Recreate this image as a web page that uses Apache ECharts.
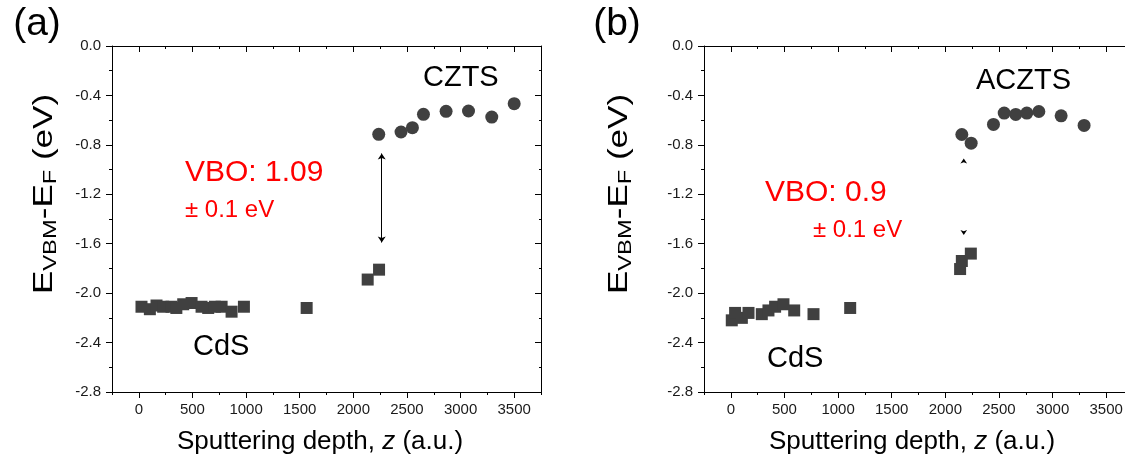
<!DOCTYPE html>
<html>
<head>
<meta charset="utf-8">
<script src="https://cdn.jsdelivr.net/npm/echarts@6/dist/echarts.min.js"></script>
<style>html,body{margin:0;padding:0;background:#fff}#c{width:1125px;height:463px}</style>
</head>
<body>
<div id="c"></div>
<script>
// ---------- data ----------
// panel (a): CdS / CZTS
const cdsA_x = [25, 103, 165, 227, 305, 350, 414, 492, 585, 647, 709, 772, 865, 980, 1565, 2134, 2240];
const cdsA_y = [-2.11, -2.13, -2.10, -2.11, -2.11, -2.12, -2.09, -2.08, -2.11, -2.12, -2.11, -2.11, -2.15, -2.11, -2.12, -1.89, -1.81];
const cztsA_x = [2237, 2445, 2551, 2654, 2865, 3074, 3291, 3500];
const cztsA_y = [-0.715, -0.696, -0.661, -0.553, -0.529, -0.526, -0.575, -0.467];
const arrowA_x = [2265, 2265];
const arrowA_y = [-0.87, -1.59];
// panel (b): CdS / ACZTS
const cdsB_x = [9, 40, 103, 165, 289, 351, 413, 491, 591, 771, 1113, 2138, 2154, 2238];
const cdsB_y = [-2.22, -2.16, -2.20, -2.16, -2.17, -2.14, -2.11, -2.09, -2.14, -2.17, -2.12, -1.805, -1.74, -1.68];
const acztsB_x = [2154, 2241, 2449, 2549, 2657, 2760, 2872, 3080, 3294];
const acztsB_y = [-0.716, -0.786, -0.635, -0.543, -0.554, -0.543, -0.530, -0.565, -0.643];
const arrowB_x = [2172, 2172];
const arrowB_y = [-0.91, -1.53];
// axes
const xMajorTicks = [0, 500, 1000, 1500, 2000, 2500, 3000, 3500];
const xRange = [-250, 3750];
const yRange = [-2.8, 0];
const panelLabels = ['(a)', '(b)'];
const phaseLabels = ['CdS', 'CZTS', 'CdS', 'ACZTS'];
const vboLabels = ['VBO: 1.09', '± 0.1 eV', 'VBO: 0.9', '± 0.1 eV'];
const xTitle = 'Sputtering depth, ';

// ---------- chart ----------
const FONT = '"Liberation Sans", Arial, Helvetica, sans-serif';
const MARK = '#404040';
const TICKFS = 15;
const zip = (a, b) => a.map((v, i) => [v, b[i]]);

const grids = [
  { left: 112, top: 46, width: 429, height: 346, outerBoundsMode: 'none', containLabel: false },
  { left: 704, top: 46, width: 429, height: 346, outerBoundsMode: 'none', containLabel: false }
];

function xAxes(gi) {
  const base = { type: 'value', gridIndex: gi, min: xRange[0], max: xRange[1], interval: 250, splitLine: { show: false } };
  return [
    Object.assign({}, base, {
      position: 'bottom',
      axisLine: { show: true, onZero: false, lineStyle: { color: '#000', width: 1 } },
      axisTick: { show: true, inside: false, length: 3, lineStyle: { color: '#000' } },
      axisLabel: { show: true, margin: 10, fontSize: TICKFS, fontFamily: FONT, color: '#1a1a1a',
        formatter: v => (Math.round(v) % 500 === 0 && v >= 0 ? String(Math.round(v)) : '') }
    }),
    Object.assign({}, base, {
      position: 'bottom',
      axisLine: { show: false, onZero: false },
      axisTick: { show: true, inside: false, length: 6, customValues: xMajorTicks, lineStyle: { color: '#000' } },
      axisLabel: { show: false }
    }),
    Object.assign({}, base, {
      position: 'top',
      axisLine: { show: true, onZero: false, lineStyle: { color: '#000', width: 1 } },
      axisTick: { show: true, inside: true, length: 3, lineStyle: { color: '#000' } },
      axisLabel: { show: false }
    }),
    Object.assign({}, base, {
      position: 'top',
      axisLine: { show: false, onZero: false },
      axisTick: { show: true, inside: true, length: 6, customValues: xMajorTicks, lineStyle: { color: '#000' } },
      axisLabel: { show: false }
    })
  ];
}

function yAxes(gi) {
  const base = { type: 'value', gridIndex: gi, min: yRange[0], max: yRange[1], interval: 0.4, splitLine: { show: false } };
  return [
    Object.assign({}, base, {
      position: 'left',
      axisLine: { show: true, onZero: false, lineStyle: { color: '#000', width: 1 } },
      axisTick: { show: true, inside: false, length: 6, lineStyle: { color: '#000' } },
      minorTick: { show: true, splitNumber: 2, length: 3, lineStyle: { color: '#000' } },
      axisLabel: { show: true, margin: 11, fontSize: TICKFS, fontFamily: FONT, color: '#1a1a1a', formatter: v => v.toFixed(1) }
    }),
    Object.assign({}, base, {
      position: 'right',
      axisLine: { show: true, onZero: false, lineStyle: { color: '#000', width: 1 } },
      axisTick: { show: true, inside: true, length: 6, lineStyle: { color: '#000' } },
      minorTick: { show: true, splitNumber: 2, length: 2, lineStyle: { color: '#000' } },
      axisLabel: { show: false }
    })
  ];
}

function pointSeries(xi, yi, data, symbol, size) {
  return { type: 'scatter', xAxisIndex: xi, yAxisIndex: yi, data: data, symbol: symbol, symbolSize: size,
    itemStyle: { color: MARK, opacity: 1 }, silent: true, z: 3 };
}
function arrowSeries(xi, yi, xs, ys, width, size) {
  return { type: 'lines', coordinateSystem: 'cartesian2d', xAxisIndex: xi, yAxisIndex: yi,
    data: [{ coords: zip(xs, ys) }], symbol: ['arrow', 'arrow'], symbolSize: size,
    lineStyle: { color: '#000', width: width, opacity: 1 }, silent: true, z: 4 };
}

function txt(x, y, text, size, color, align) {
  return { type: 'text', x: x, y: y, silent: true, z: 10,
    style: { text: text, fontSize: size, fontFamily: FONT, fill: color,
      align: align || 'left', textAlign: align || 'left', verticalAlign: 'middle', textVerticalAlign: 'middle' } };
}
function yTitle(x, y) {
  return { type: 'text', x: x, y: y, rotation: Math.PI / 2, scaleX: 1.25, scaleY: 1, silent: true, z: 10,
    style: { text: '{m|E}{s|VBM}{m|-E}{s|F}{m| (eV)}', fill: '#000', fontFamily: FONT,
      align: 'center', textAlign: 'center', verticalAlign: 'middle', textVerticalAlign: 'middle',
      rich: {
        m: { fontSize: 28, fontFamily: FONT, fill: '#000' },
        s: { fontSize: 19, fontFamily: FONT, fill: '#000', padding: [12, 0, 0, 0] }
      } } };
}
function xTitleEl(x, y) {
  return { type: 'text', x: x, y: y, silent: true, z: 10,
    style: { text: '{n|' + xTitle + '}{i|z}{n| (a.u.)}', fill: '#000', fontFamily: FONT,
      align: 'center', textAlign: 'center', verticalAlign: 'middle', textVerticalAlign: 'middle',
      rich: {
        n: { fontSize: 26, fontFamily: FONT, fill: '#000' },
        i: { fontSize: 26, fontFamily: FONT, fontStyle: 'italic', fill: '#000' }
      } } };
}

const option = {
  backgroundColor: '#fff',
  animation: false,
  grid: grids,
  xAxis: xAxes(0).concat(xAxes(1)),
  yAxis: yAxes(0).concat(yAxes(1)),
  series: [
    pointSeries(0, 0, zip(cdsA_x, cdsA_y), 'rect', 12),
    pointSeries(0, 0, zip(cztsA_x, cztsA_y), 'circle', 13),
    arrowSeries(0, 0, arrowA_x, arrowA_y, 1, 6),
    pointSeries(4, 2, zip(cdsB_x, cdsB_y), 'rect', 12),
    pointSeries(4, 2, zip(acztsB_x, acztsB_y), 'circle', 13),
    arrowSeries(4, 2, arrowB_x, arrowB_y, 0, 5)
  ],
  graphic: [
    txt(37, 24, panelLabels[0], 39, '#000', 'center'),
    txt(617, 24, panelLabels[1], 39, '#000', 'center'),
    txt(193, 347, phaseLabels[0], 29, '#000'),
    txt(423, 78, phaseLabels[1], 29, '#000'),
    txt(767, 359, phaseLabels[2], 29, '#000'),
    txt(976, 81, phaseLabels[3], 29, '#000'),
    txt(185, 172.7, vboLabels[0], 30, '#ff0000'),
    txt(185, 210.6, vboLabels[1], 24, '#ff0000'),
    txt(765, 192.7, vboLabels[2], 30, '#ff0000'),
    txt(813, 230.6, vboLabels[3], 24, '#ff0000'),
    yTitle(44.6, 194),
    yTitle(619.3, 194),
    xTitleEl(320, 442),
    xTitleEl(912, 442)
  ]
};

const chart = echarts.init(document.getElementById('c'), null, { renderer: 'canvas' });
chart.setOption(option);
</script>
</body>
</html>
